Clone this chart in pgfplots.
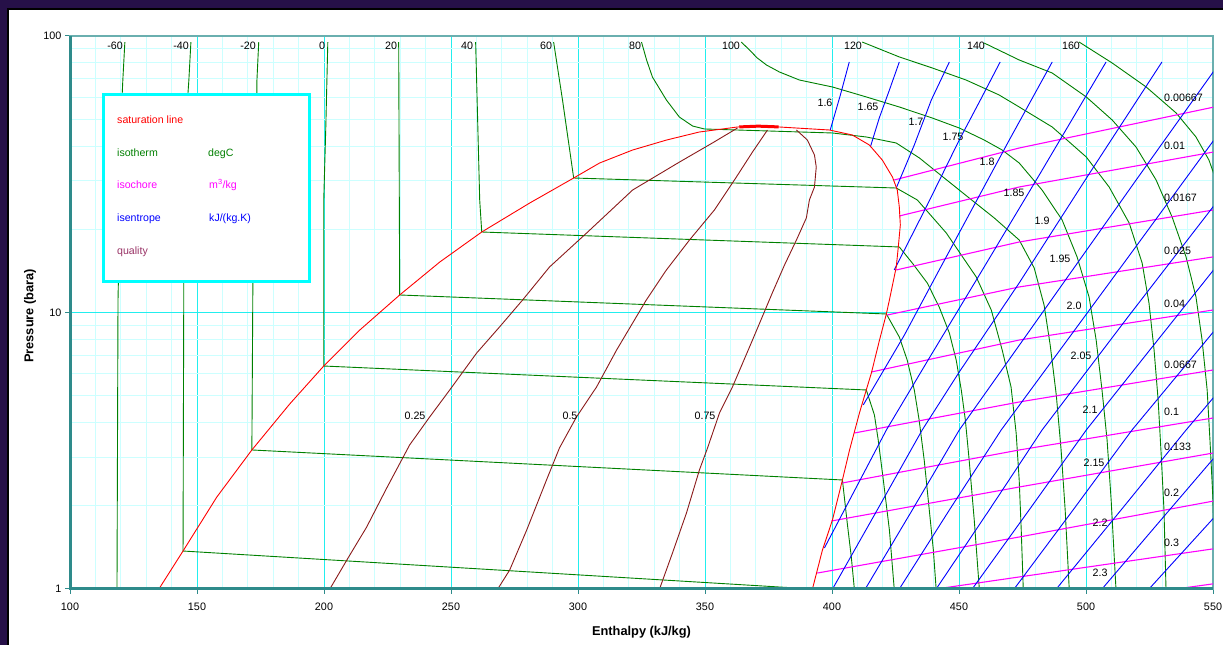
\documentclass[border=0pt]{standalone}
\usepackage{fontspec}
\setmainfont{Liberation Sans}
\usepackage{pgfplots}
\pgfplotsset{compat=1.18}
\definecolor{bgpurple}{HTML}{261048}
\definecolor{axteal}{HTML}{2E8B8B}
\definecolor{axteal2}{HTML}{6AAFAF}
\definecolor{gmaj}{HTML}{22EEEE}
\definecolor{gmin}{HTML}{CCFFFF}
\definecolor{lcyan}{RGB}{0,255,255}
\definecolor{iso}{HTML}{008000}
\definecolor{ichor}{HTML}{FF00FF}
\definecolor{isen}{HTML}{0000FF}
\definecolor{qual}{HTML}{8B1A1A}
\definecolor{qualtxt}{HTML}{993366}
\definecolor{satred}{HTML}{FF0000}
\newcommand{\lbl}[3]{\node[font=\fontsize{10.7}{12}\selectfont, inner sep=0pt, anchor=mid] at (#1pt,{645pt-#2pt}) {#3};}
\newcommand{\lbw}[3]{\node[font=\fontsize{10.7}{12}\selectfont, inner sep=0pt, anchor=mid west] at (#1pt,{645pt-#2pt}) {#3};}
\begin{document}
\begin{tikzpicture}
\useasboundingbox (0,0) rectangle (1223pt,645pt);
\fill[bgpurple] (0,0) rectangle (1223pt,645pt);
\fill[black] (7pt,0) rectangle (1223pt,637pt);
\fill[white] (9pt,0) rectangle (1223pt,635pt);
\begin{axis}[
 name=ax, at={(70pt,56pt)}, anchor=south west,
 scale only axis, width=1143pt, height=553pt,
 xmin=100, xmax=550, ymin=1, ymax=100, ymode=log,
 xtick={100,150,...,550}, minor x tick num=4,
 ytick={1,10,100}, yticklabels={1,10,100},
 grid=both,
 major grid style={draw=gmaj, line width=0.9pt},
 minor grid style={draw=gmin, line width=0.8pt},
 axis line style={draw=axteal2, line width=1.2pt},
 xtick pos=bottom, ytick pos=left,
 tick align=outside, major tick length=5pt, minor tick length=0pt,
 tick style={draw=axteal, line width=1pt},
 ticklabel style={font=\fontsize{10.8}{12}\selectfont},
 xticklabel style={yshift=-5pt},
 /pgf/number format/assume math mode=true,
 xlabel={Enthalpy (kJ/kg)}, ylabel={Pressure (bara)},
 label style={font=\bfseries\fontsize{12.8}{14}\selectfont},
 xlabel style={at={(axis description cs:0.5,-0.078)}, anchor=center},
 ylabel style={at={(axis description cs:-0.035,0.494)}, anchor=center},
]
% ---------- isotherms (degC) ----------
\addplot[iso, line width=0.9pt] coordinates {(121.6,95.1) (120.8,69.3) (120.5,60.2) (118.9,11.1) (118.5,1.0)};
\addplot[iso, line width=0.9pt] coordinates {(147.6,95.1) (146.8,69.3) (146.4,61.2) (144.8,12.89) (144.5,1.372) (392.3,1.0)};
\addplot[iso, line width=0.9pt] coordinates {(174.3,95.1) (173.6,69.3) (173.6,61.2) (172.0,12.89) (171.6,3.183) (404.1,2.479) (406.0,1.733) (407.6,1.305) (408.8,1.0)};
\addplot[iso, line width=0.9pt] coordinates {(201.5,95.1) (200.7,46.48) (199.9,25.52) (199.9,6.404) (413.5,5.246) (416.7,4.259) (418.2,3.458) (420.2,2.479) (422.6,1.634) (424.5,1.0)};
\addplot[iso, line width=0.9pt] coordinates {(229.4,95.1) (229.8,11.57) (421.4,9.877) (426.5,8.153) (429.6,6.732) (432.4,5.246) (434.3,4.086) (436.3,2.927) (438.3,1.931) (439.9,1.384) (441.0,1.0)};
\addplot[iso, line width=0.9pt] coordinates {(259.7,95.1) (261.3,25.52) (262.1,19.55) (426.5,17.26) (431.6,15.10) (437.5,12.79) (442.2,10.47) (446.2,8.43) (448.9,6.732) (450.9,5.246) (452.5,4.086) (454.0,2.927) (456.0,1.777) (458.0,1.0)};
\addplot[iso, line width=0.9pt] coordinates {(290.4,95.1) (293.9,58.69) (298.3,30.65) (425.3,28.20) (433.6,25.52) (445.0,19.39) (456.8,13.44) (462.7,10.21) (467.0,7.318) (470.5,5.377) (472.5,3.666) (473.7,2.479) (474.5,1.634) (475.3,1.0)};
\addplot[iso, line width=0.9pt] coordinates {(325.0,95.1) (327.0,81.9) (329.3,71.07) (334.8,58.69) (339.9,50.93) (345.1,47.26) (349.8,46.10) (400.2,44.59) (413.5,43.13) (425.3,41.02) (434.4,36.22) (444.2,30.65) (454.0,25.95) (463.9,21.97) (473.7,18.29) (479.6,14.49) (483.5,10.64) (485.9,7.629) (488.3,5.030) (490.2,3.183) (491.8,1.931) (493.4,1.0)};
\addplot[iso, line width=0.9pt] coordinates {(364.3,95.1) (367.5,89.0) (370.6,83.25) (374.2,78.56) (379.3,74.1) (387.2,69.3) (400.2,65.40) (413.5,60.2) (426.5,55.37) (439.5,50.50) (450.1,46.48) (459.9,42.06) (467.0,38.70) (473.7,34.73) (482.7,27.73) (490.6,21.61) (496.5,15.88) (501.2,11.38) (504.0,7.952) (506.3,5.246) (508.3,3.458) (509.9,2.098) (511.8,1.0)};
\addplot[iso, line width=0.9pt] coordinates {(411.9,95.1) (426.5,83.99) (439.5,76.62) (452.8,69.3) (465.8,61.2) (473.7,55.37) (486.7,46.87) (500.1,36.52) (509.1,28.44) (517.0,21.07) (522.1,15.10) (524.8,10.82) (526.8,7.318) (528.4,4.826) (529.5,3.183) (530.7,1.931) (531.5,1.0)};
\addplot[iso, line width=0.9pt] coordinates {(459.9,94.33) (473.7,81.9) (486.7,73.48) (500.1,60.2) (510.3,49.69) (519.7,39.68) (527.6,30.15) (533.9,22.15) (539.4,15.88) (543.3,11.38) (545.7,7.952) (547.7,5.246) (548.8,3.458) (550.0,2.098) (551.2,1.0)};
\addplot[iso, line width=0.9pt] coordinates {(497.3,95.1) (510.3,79.88) (523.7,65.40) (535.5,52.66) (543.3,43.13) (548.4,35.60) (551.6,29.40) (554.3,23.48)};
% ---------- isochores (m3/kg) ----------
\addplot[ichor, line width=1.1pt] coordinates {(424.5,30.15) (473.7,39.35) (552.4,55.83)};
\addplot[ichor, line width=1.1pt] coordinates {(426.5,22.34) (473.7,28.44) (552.4,38.38)};
\addplot[ichor, line width=1.1pt] coordinates {(425.3,14.25) (473.7,17.99) (552.4,23.67)};
\addplot[ichor, line width=1.1pt] coordinates {(421.8,9.795) (473.7,12.37) (552.4,16.01)};
\addplot[ichor, line width=1.1pt] coordinates {(415.5,6.093) (473.7,7.952) (552.4,10.29)};
\addplot[ichor, line width=1.1pt] coordinates {(408.8,3.666) (473.7,4.746) (552.4,6.247)};
\addplot[ichor, line width=1.1pt] coordinates {(404.1,2.418) (473.7,3.183) (552.4,4.189)};
\addplot[ichor, line width=1.1pt] coordinates {(399.8,1.762) (473.7,2.338) (552.4,3.130)};
\addplot[ichor, line width=1.1pt] coordinates {(394.2,1.142) (473.7,1.542) (552.4,2.098)};
\addplot[ichor, line width=1.1pt] coordinates {(441.0,1.0) (552.4,1.407)};
\addplot[ichor, line width=1.1pt] coordinates {(535.4,1.0) (552.4,1.051)};
% ---------- isentropes (kJ/(kg.K)) ----------
\addplot[isen, line width=0.9pt] coordinates {(406.8,80.54) (403.3,61.2) (399.3,45.71)};
\addplot[isen, line width=0.9pt] coordinates {(426.5,80.54) (422.6,63.78) (418.6,50.50) (415.1,39.68)};
\addplot[isen, line width=0.9pt] coordinates {(446.2,80.54) (439.1,58.69) (432.4,40.35) (425.3,28.20)};
\addplot[isen, line width=0.9pt] coordinates {(466.2,80.54) (458.0,57.72) (450.1,42.06) (437.5,24.48) (424.5,14.25)};
\addplot[isen, line width=0.9pt] coordinates {(486.7,80.54) (469.8,42.06) (456.0,24.48) (442.2,14.25) (428.5,8.290) (412.3,4.630)};
\addplot[isen, line width=0.9pt] coordinates {(507.9,80.54) (481.6,31.43) (458.0,13.66) (438.3,6.845) (421.4,3.758) (397.0,1.407)};
\addplot[isen, line width=0.9pt] coordinates {(529.9,80.54) (501.2,31.69) (473.7,12.79) (450.1,6.093) (435.5,3.758) (417.8,1.931) (400.2,1.0)};
\addplot[isen, line width=0.9pt] coordinates {(551.2,76.62) (518.9,29.40) (485.5,10.82) (450.1,3.758) (431.6,1.931) (413.1,1.0)};
\addplot[isen, line width=0.9pt] coordinates {(552.4,44.59) (508.3,12.47) (466.6,3.758) (446.2,1.931) (426.5,1.0)};
\addplot[isen, line width=0.9pt] coordinates {(552.4,25.73) (516.2,9.552) (482.7,3.758) (461.9,1.931) (441.0,1.0)};
\addplot[isen, line width=0.9pt] coordinates {(552.4,15.10) (524.8,7.257) (500.1,3.758) (477.6,1.931) (455.2,1.0)};
\addplot[isen, line width=0.9pt] coordinates {(552.4,9.011) (518.1,3.758) (494.9,1.931) (471.7,1.0)};
\addplot[isen, line width=0.9pt] coordinates {(552.4,5.201) (539.4,3.758) (513.8,1.931) (488.3,1.0)};
\addplot[isen, line width=0.9pt] coordinates {(552.4,3.130) (528.8,1.747) (506.3,1.0)};
\addplot[isen, line width=0.9pt] coordinates {(552.4,1.899) (524.8,1.0)};
% ---------- quality ----------
\addplot[qual, line width=0.9pt] coordinates {(362.8,46.48) (352.9,41.02) (340.0,35.03) (321.5,27.73) (303.4,19.39) (288.8,14.61) (278.2,11.10) (269.1,8.863) (260.1,7.137) (249.5,5.246) (241.6,4.189) (233.7,3.317) (224.7,2.319) (216.8,1.676) (209.0,1.273) (202.3,1.0)};
\addplot[qual, line width=0.9pt] coordinates {(374.6,45.71) (368.7,38.06) (361.6,30.15) (353.7,23.48) (343.9,18.29) (334.8,14.25) (326.9,11.10) (315.2,7.318) (307.3,5.377) (299.4,4.189) (292.7,3.236) (287.6,2.479) (279.8,1.634) (273.1,1.171) (268.4,1.0)};
\addplot[qual, line width=0.9pt] coordinates {(386.0,45.71) (390.3,42.06) (393.1,37.12) (393.8,33.60) (393.1,28.44) (391.1,25.52) (389.9,21.97) (386.0,18.29) (381.3,14.85) (376.5,11.77) (368.7,7.952) (360.8,5.377) (355.7,4.330) (351.0,3.236) (347.8,2.694) (342.7,1.883) (337.2,1.350) (332.1,1.0)};
% ---------- saturation line ----------
\addplot[satred, line width=0.9pt] coordinates {(135.0,1.00) (144.5,1.372) (157.8,2.151) (171.6,3.183) (186.5,4.668) (199.9,6.404) (214.1,8.644) (229.8,11.57) (245.6,15.23) (262.1,19.55) (281.0,24.89) (298.3,30.65) (308.5,34.73) (321.5,38.70) (334.9,42.06) (347.8,44.96) (362.8,46.87) (371.4,47.26) (379.3,46.87) (399.0,45.71) (408.0,43.85) (414.7,40.35) (419.8,35.60) (423.8,30.91) (425.7,27.73) (426.5,24.07) (426.9,20.73) (426.1,17.26) (425.3,14.61) (422.6,11.10) (421.4,9.88) (418.7,7.95) (415.5,6.04) (413.5,5.25) (410.8,4.33) (406.9,3.18) (404.1,2.48) (400.2,1.78) (396.2,1.38) (392.3,1.00)};
\addplot[satred, line width=3pt] coordinates {(363.5,46.9) (371.0,47.2) (379.0,46.9)};
\end{axis}
\draw[axteal, line width=3pt] (ax.north west) -- (ax.south west) -- (ax.south east);
% legend box
\draw[lcyan, line width=3pt, fill=white] (103pt,363pt) rectangle (309pt,550pt);
\begin{scope}[font=\fontsize{10.6}{12}\selectfont]
\node[satred, anchor=mid west, inner sep=0pt] at (117pt,{645pt-121pt}) {saturation line};
\node[iso, anchor=mid west, inner sep=0pt] at (117pt,{645pt-154pt}) {isotherm};
\node[iso, anchor=mid west, inner sep=0pt] at (208pt,{645pt-154pt}) {degC};
\node[ichor, anchor=mid west, inner sep=0pt] at (117pt,{645pt-186pt}) {isochore};
\node[ichor, anchor=mid west, inner sep=0pt] at (209pt,{645pt-186pt}) {m\textsuperscript{3}/kg};
\node[isen, anchor=mid west, inner sep=0pt] at (117pt,{645pt-219pt}) {isentrope};
\node[isen, anchor=mid west, inner sep=0pt] at (209pt,{645pt-219pt}) {kJ/(kg.K)};
\node[qualtxt, anchor=mid west, inner sep=0pt] at (117pt,{645pt-252pt}) {quality};
\end{scope}
% isotherm labels
\lbl{115}{47}{-60}\lbl{181}{47}{-40}\lbl{248}{47}{-20}\lbl{322}{47}{0}\lbl{391}{47}{20}\lbl{467}{47}{40}
\lbl{546}{47}{60}\lbl{635}{47}{80}\lbl{731}{47}{100}\lbl{853}{47}{120}\lbl{976}{47}{140}\lbl{1071}{47}{160}
% isentrope labels
\lbl{825}{104}{1.6}\lbl{868}{108}{1.65}\lbl{916}{123}{1.7}\lbl{953}{138}{1.75}\lbl{987}{163}{1.8}
\lbl{1014}{194}{1.85}\lbl{1042}{222}{1.9}\lbl{1060}{260}{1.95}\lbl{1074}{307}{2.0}\lbl{1081}{357}{2.05}
\lbl{1090}{411}{2.1}\lbl{1094}{464}{2.15}\lbl{1100}{524}{2.2}\lbl{1100}{574}{2.3}
% isochore labels
\lbw{1164}{99}{0.00667}\lbw{1164}{147}{0.01}\lbw{1164}{199}{0.0167}\lbw{1164}{252}{0.025}\lbw{1164}{305}{0.04}
\lbw{1164}{366}{0.0667}\lbw{1164}{413}{0.1}\lbw{1164}{448}{0.133}\lbw{1164}{494}{0.2}\lbw{1164}{544}{0.3}
% quality labels
\lbl{415}{417}{0.25}\lbl{570}{417}{0.5}\lbl{705}{417}{0.75}
\end{tikzpicture}
\end{document}
